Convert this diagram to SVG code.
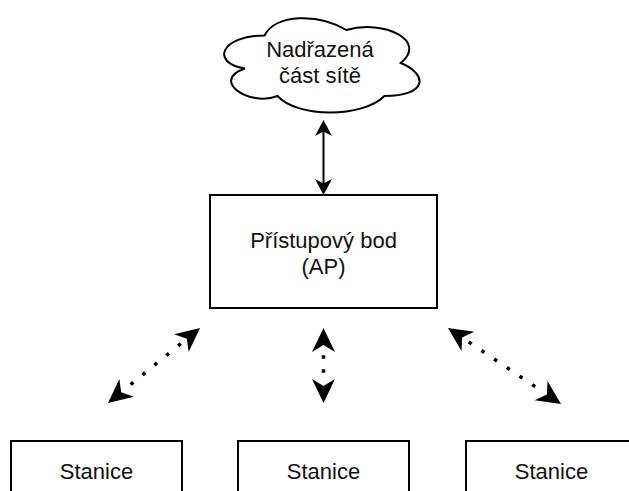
<svg xmlns="http://www.w3.org/2000/svg" width="629" height="491" viewBox="0 0 629 491">
<style>
.box{fill:#fff;stroke:#000;stroke-width:2}
.lbl{font-family:"Liberation Sans",Arial,sans-serif;font-size:22px;fill:#111;text-anchor:middle}
.solid{fill:none;stroke:#000;stroke-width:2}
.dot{fill:none;stroke:#000;stroke-width:3.5}
</style>
<defs>
<marker id="arrS" markerUnits="userSpaceOnUse" viewBox="-20 -10 22 20" refX="-4" refY="0" markerWidth="22" markerHeight="20" orient="auto-start-reverse" overflow="visible">
<path d="M0,0 L-16,-8.5 L-11.5,0 L-16,8.5 Z" fill="#000"/>
</marker>
<marker id="arrD" markerUnits="userSpaceOnUse" viewBox="-26 -13 28 26" refX="0" refY="0" markerWidth="28" markerHeight="26" orient="auto-start-reverse" overflow="visible">
<path d="M0,0 L-24,-11.5 L-17,0 L-24,11.5 Z" fill="#000"/>
</marker>
</defs>
<g id="connectors">
<path class="solid" d="M323.5,124 L323.5,191" marker-start="url(#arrS)" marker-end="url(#arrS)"/>
<path class="dot" d="M200,328 L108,403" stroke-dasharray="0 24.75 3.5 11.8 3.5 11.8 3.5 11.8 3.5 11.8 3.5 200" marker-start="url(#arrD)" marker-end="url(#arrD)"/>
<path class="dot" d="M323.5,328 L323.5,403" stroke-dasharray="0 27.25 3.5 10.5 3.5 200" marker-start="url(#arrD)" marker-end="url(#arrD)"/>
<path class="dot" d="M448,328 L561,404" stroke-dasharray="0 25 3.5 11.8 3.5 11.8 3.5 11.8 3.5 11.8 3.5 11.8 3.5 200" marker-start="url(#arrD)" marker-end="url(#arrD)"/>
</g>
<g id="cloud">
<path class="box" d="M264.5,35.5 C220.9,35.5 210,63 244.88,68.5 C210,80.6 249.24,107 277.58,96 C297.2,118 362.6,118 384.4,96 C428,96 428,74 400.75,63 C428,41 384.4,19 346.25,30 C319,13.5 275.4,13.5 264.5,35.5 Z"/>
<text class="lbl" x="320" y="57">Nadřazená</text>
<text class="lbl" x="320" y="83">část sítě</text>
</g>
<g id="ap">
<rect class="box" x="210" y="195" width="227" height="113"/>
<text class="lbl" x="323.5" y="248">Přístupový bod</text>
<text class="lbl" x="323.5" y="274">(AP)</text>
</g>
<g id="station1">
<rect class="box" x="11" y="441" width="171" height="85"/>
<text class="lbl" x="96.5" y="479">Stanice</text>
</g>
<g id="station2">
<rect class="box" x="238" y="441" width="171" height="85"/>
<text class="lbl" x="323.5" y="479">Stanice</text>
</g>
<g id="station3">
<rect class="box" x="466" y="441" width="171" height="85"/>
<text class="lbl" x="551.5" y="479">Stanice</text>
</g>
</svg>
